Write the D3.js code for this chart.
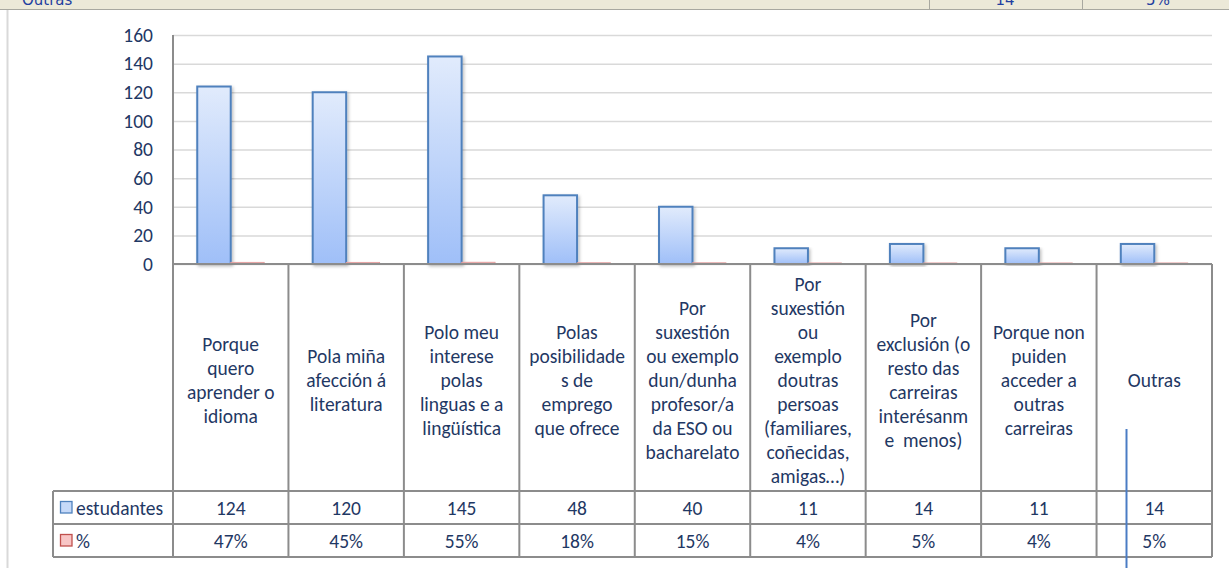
<!DOCTYPE html>
<html>
<head>
<meta charset="utf-8">
<script src="https://cdn.jsdelivr.net/npm/d3@7"></script>
<style>
  body { margin: 0; background: #fff; }
  svg { display: block; font-family: Carlito, Lato, "Noto Sans", sans-serif; }
</style>
</head>
<body>
<div id="chart"></div>
<script>
// category labels, wrapped as in the sheet
var categories = [
  ["Porque", "quero", "aprender o", "idioma"],
  ["Pola miña", "afección á", "literatura"],
  ["Polo meu", "interese", "polas", "linguas e a", "lingüística"],
  ["Polas", "posibilidade", "s de", "emprego", "que ofrece"],
  ["Por", "suxestión", "ou exemplo", "dun/dunha", "profesor/a", "da ESO ou", "bacharelato"],
  ["Por", "suxestión", "ou", "exemplo", "doutras", "persoas", "(familiares,", "coñecidas,", "amigas…)"],
  ["Por", "exclusión (o", "resto das", "carreiras", "interésanm", "e  menos)"],
  ["Porque non", "puiden", "acceder a", "outras", "carreiras"],
  ["Outras"]
];
var estudantes = [124, 120, 145, 48, 40, 11, 14, 11, 14];
var percent = [47, 45, 55, 18, 15, 4, 5, 4, 5];
var seriesNames = ["estudantes", "%"];
var yTicks = [0, 20, 40, 60, 80, 100, 120, 140, 160];

var W = 1229, H = 568;
var plotLeft = 173, plotRight = 1212, plotTop = 35, base = 264;
var labelLeft = 53, row1 = 491, row2 = 524, row3 = 557;
var textColor = "#1f3864", lineColor = "#8c8c8c";
var fontSize = "19.5px";

var svg = d3.select("#chart").append("svg")
    .attr("width", W)
    .attr("height", H);

var defs = svg.append("defs");
var gb = defs.append("linearGradient").attr("id", "gblue").attr("x1", 0).attr("y1", 0).attr("x2", 0).attr("y2", 1);
gb.append("stop").attr("offset", "0%").attr("stop-color", "#e1ebfc");
gb.append("stop").attr("offset", "100%").attr("stop-color", "#9fbff8");
var sh = defs.append("filter").attr("id", "shadow").attr("x", "-20%").attr("y", "-5%").attr("width", "150%").attr("height", "115%");
sh.append("feDropShadow").attr("dx", 1.5).attr("dy", 1.5).attr("stdDeviation", 1.5).attr("flood-color", "#000").attr("flood-opacity", 0.25);

// strip of the sheet row above the chart
var band = svg.append("g");
band.append("rect").attr("x", 0).attr("y", 0).attr("width", W).attr("height", 9).attr("fill", "#ece9d8");
band.append("line").attr("x1", 0).attr("x2", W).attr("y1", 9.5).attr("y2", 9.5).attr("stroke", "#a8a8a0");
[929, 1082].forEach(function(x) {
  band.append("line").attr("x1", x + 0.5).attr("x2", x + 0.5).attr("y1", 0).attr("y2", 9).attr("stroke", "#a8a8a0");
});
defs.append("clipPath").attr("id", "bandclip").append("rect").attr("width", W).attr("height", 9);
var bandText = band.append("g").attr("clip-path", "url(#bandclip)")
    .attr("fill", "#1f3fa0").style("font-family", "Verdana, 'DejaVu Sans', sans-serif").style("font-size", "15px");
bandText.append("text").attr("x", 22).attr("y", 5).text("Outras");
bandText.append("text").attr("x", 1005).attr("y", 5).attr("text-anchor", "middle").text("14");
bandText.append("text").attr("x", 1158).attr("y", 5).attr("text-anchor", "middle").text("5%");

// chart panel border
svg.append("line").attr("x1", 7.5).attr("x2", 7.5).attr("y1", 10).attr("y2", H).attr("stroke", "#d9d9d9").attr("stroke-width", 2);

var y = d3.scaleLinear().domain([0, 160]).range([base, plotTop]);
var x = d3.scaleBand().domain(d3.range(categories.length)).range([plotLeft, plotRight])
    .paddingInner(0.42).paddingOuter(0.21);
var xs = d3.scaleBand().domain(seriesNames).range([0, x.bandwidth()]);
var step = x.step();

// gridlines
svg.append("g")
    .attr("transform", "translate(" + plotLeft + ",0)")
    .call(d3.axisLeft(y).tickValues(yTicks).tickSize(-(plotRight - plotLeft)).tickFormat(""))
    .call(function(g) { g.select(".domain").remove(); })
    .selectAll("line").attr("stroke", "#d9d9d9").attr("stroke-width", 1.5);

// y labels
svg.append("g")
    .attr("transform", "translate(" + (plotLeft - 20) + ",0)")
    .call(d3.axisLeft(y).tickValues(yTicks).tickSize(0).tickPadding(0))
    .call(function(g) { g.select(".domain").remove(); })
    .selectAll("text").attr("fill", textColor).style("font-size", fontSize).style("font-family", "Carlito, Lato, sans-serif");

// bars
var groups = svg.selectAll(".cat").data(categories).enter().append("g")
    .attr("transform", function(d, i) { return "translate(" + x(i) + ",0)"; });

groups.append("rect")
    .attr("x", xs("estudantes"))
    .attr("y", function(d, i) { return y(estudantes[i]); })
    .attr("width", xs.bandwidth())
    .attr("height", function(d, i) { return base - y(estudantes[i]); })
    .attr("fill", "url(#gblue)")
    .attr("stroke", "#4f81bd")
    .attr("stroke-width", 2)
    .attr("filter", "url(#shadow)");

groups.append("rect")
    .attr("x", xs("%"))
    .attr("y", function(d, i) { return y(percent[i] / 100) - 1; })
    .attr("width", xs.bandwidth())
    .attr("height", function(d, i) { return base - y(percent[i] / 100) + 1; })
    .attr("fill", "#f2b0b0")
    .attr("stroke", "#e39a9a")
    .attr("stroke-width", 0.8);

// data table
var table = svg.append("g").attr("stroke", lineColor).attr("stroke-width", 2).attr("fill", "none");
table.append("line").attr("x1", plotLeft).attr("x2", plotLeft).attr("y1", plotTop).attr("y2", row3);
table.append("line").attr("x1", plotLeft).attr("x2", plotRight).attr("y1", base).attr("y2", base);
d3.range(categories.length + 1).forEach(function(i) {
  var xx = plotLeft + i * step;
  table.append("line").attr("x1", xx).attr("x2", xx).attr("y1", base).attr("y2", row3);
});
[row1, row2, row3].forEach(function(yy) {
  table.append("line").attr("x1", labelLeft).attr("x2", plotRight).attr("y1", yy).attr("y2", yy);
});
table.append("line").attr("x1", labelLeft).attr("x2", labelLeft).attr("y1", row1).attr("y2", row3);

// category labels
var lineH = 24, midY = (base + row1) / 2 + 2;
groups.append("text")
    .attr("text-anchor", "middle")
    .attr("fill", textColor)
    .style("font-size", fontSize)
    .style("white-space", "pre")
    .each(function(d) {
      var t = d3.select(this);
      var y0 = midY - (d.length - 1) * lineH / 2 + 7;
      d.forEach(function(line, k) {
        t.append("tspan").attr("x", x.bandwidth() / 2).attr("y", y0 + k * lineH).text(line);
      });
    });

// table values
var rows = [
  { name: "estudantes", vals: estudantes.map(String), y: (row1 + row2) / 2, fill: "#c6d9f8", stroke: "#4f81bd" },
  { name: "%", vals: percent.map(function(v) { return v + "%"; }), y: (row2 + row3) / 2, fill: "#f8c6c6", stroke: "#c0504d" }
];
rows.forEach(function(r) {
  svg.append("g").selectAll("text").data(r.vals).enter().append("text")
      .attr("x", function(d, i) { return x(i) + x.bandwidth() / 2; })
      .attr("y", r.y + 7)
      .attr("text-anchor", "middle")
      .attr("fill", textColor)
      .style("font-size", fontSize)
      .text(function(d) { return d; });
  svg.append("rect").attr("x", 60.5).attr("y", r.y - 6).attr("width", 11.5).attr("height", 11.5)
      .attr("fill", r.fill).attr("stroke", r.stroke).attr("stroke-width", 1.3);
  svg.append("text").attr("x", 76).attr("y", r.y + 7).attr("fill", textColor)
      .style("font-size", fontSize).text(r.name);
});

// stray cursor line over the last column
svg.append("line").attr("x1", 1126.5).attr("x2", 1126.5).attr("y1", 429).attr("y2", H)
    .attr("stroke", "#4a7cc4").attr("stroke-width", 2);
</script>
</body>
</html>
